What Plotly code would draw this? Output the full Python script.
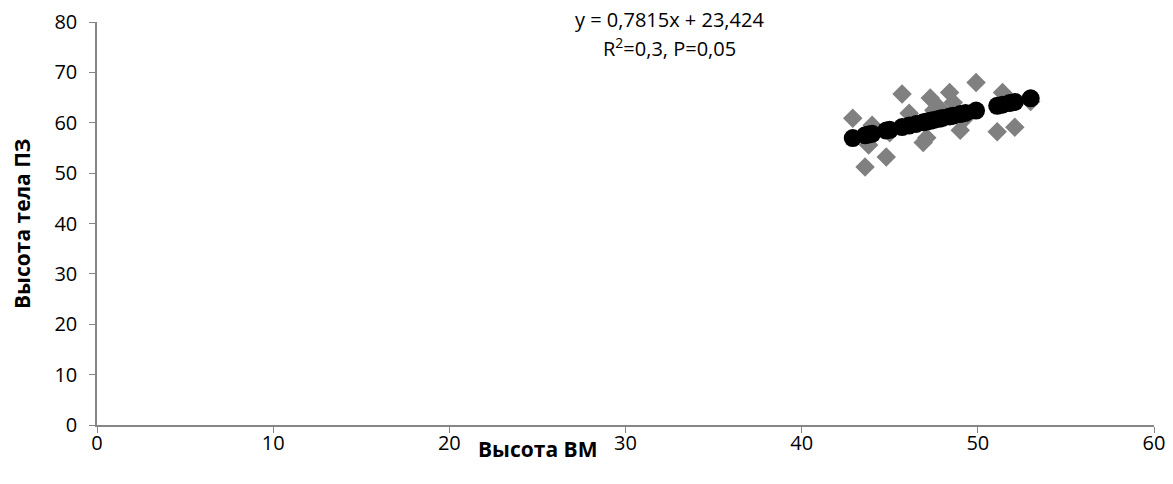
import plotly.graph_objects as go

# Observed data: Высота ВМ (x) vs Высота тела ПЗ (y)
vm_height = [42.9, 43.6, 43.8, 44.0, 44.8, 45.0, 45.7, 46.1, 46.5, 46.9, 47.1, 47.3, 47.5,
             47.8, 48.0, 48.4, 48.6, 49.0, 49.3, 49.9, 51.1, 51.4, 51.8, 52.1, 53.0]
pz_height = [60.9, 51.2, 55.6, 59.5, 53.2, 58.0, 65.7, 61.9, 60.0, 56.1, 57.0, 64.9, 62.5,
             63.0, 61.0, 66.0, 64.0, 58.5, 61.0, 68.0, 58.2, 66.0, 64.5, 59.1, 64.2]
# Predicted values (trend line points, black circles)
pz_predicted = [56.95, 57.50, 57.65, 57.81, 58.44, 58.59, 59.14, 59.45, 59.76, 60.08, 60.23,
                60.39, 60.55, 60.78, 60.94, 61.25, 61.40, 61.72, 61.95, 62.42, 63.36, 63.59,
                63.91, 64.14, 64.84]

x_ticks = [0, 10, 20, 30, 40, 50, 60]
y_ticks = [0, 10, 20, 30, 40, 50, 60, 70, 80]

FONT = "Open Sans"
AXIS_COLOR = "#868686"
L, R, T, B = 97, 19, 22, 59
PW, PH = 1173 - L - R, 484 - T - B

fig = go.Figure()
fig.add_trace(go.Scatter(x=vm_height, y=pz_height, mode="markers",
                         marker=dict(symbol="diamond", size=15, color="#808080"),
                         showlegend=False))
fig.add_trace(go.Scatter(x=vm_height, y=pz_predicted, mode="markers",
                         marker=dict(symbol="circle", size=18, color="#000000"),
                         showlegend=False))

axis_common = dict(showgrid=False, zeroline=False, automargin=False,
                   showline=True, linecolor=AXIS_COLOR, linewidth=1.5,
                   ticks="outside", ticklen=6, tickcolor=AXIS_COLOR, tickwidth=1,
                   tickfont=dict(family=FONT, size=20, color="#000000"))

fig.update_layout(
    width=1173, height=484,
    margin=dict(l=L, r=R, t=T, b=B, autoexpand=False),
    paper_bgcolor="white", plot_bgcolor="white",
    font=dict(family=FONT, size=20, color="#000000"),
    xaxis=dict(range=[0, 60], tickvals=x_ticks, ticklabelstandoff=-7, **axis_common),
    yaxis=dict(range=[0, 80], tickvals=y_ticks, ticklabelstandoff=8, **axis_common),
    annotations=[
        dict(text="<b>Высота ВМ</b>", xref="paper", yref="paper", x=(537 - L) / PW,
             y=-(449 - 425) / PH, xanchor="center", yanchor="middle", showarrow=False,
             font=dict(family=FONT, size=21)),
        dict(text="<b>Высота тела ПЗ</b>", xref="paper", yref="paper", x=-(L - 22) / PW,
             y=(425 - 224) / PH, xanchor="center", yanchor="middle", textangle=-90,
             showarrow=False, font=dict(family=FONT, size=21)),
        dict(text="y = 0,7815x + 23,424", xref="paper", yref="paper",
             x=(669 - L) / PW, y=(425 - 19) / PH, xanchor="center", yanchor="middle",
             showarrow=False, font=dict(family=FONT, size=20)),
        dict(text="R<sup>2</sup>=0,3, P=0,05", xref="paper", yref="paper",
             x=(669 - L) / PW, y=(425 - 47) / PH, xanchor="center", yanchor="middle",
             showarrow=False, font=dict(family=FONT, size=20)),
    ],
)

fig.write_html("out.html", config={"displayModeBar": False},
               post_script="document.body.style.margin='0';")
